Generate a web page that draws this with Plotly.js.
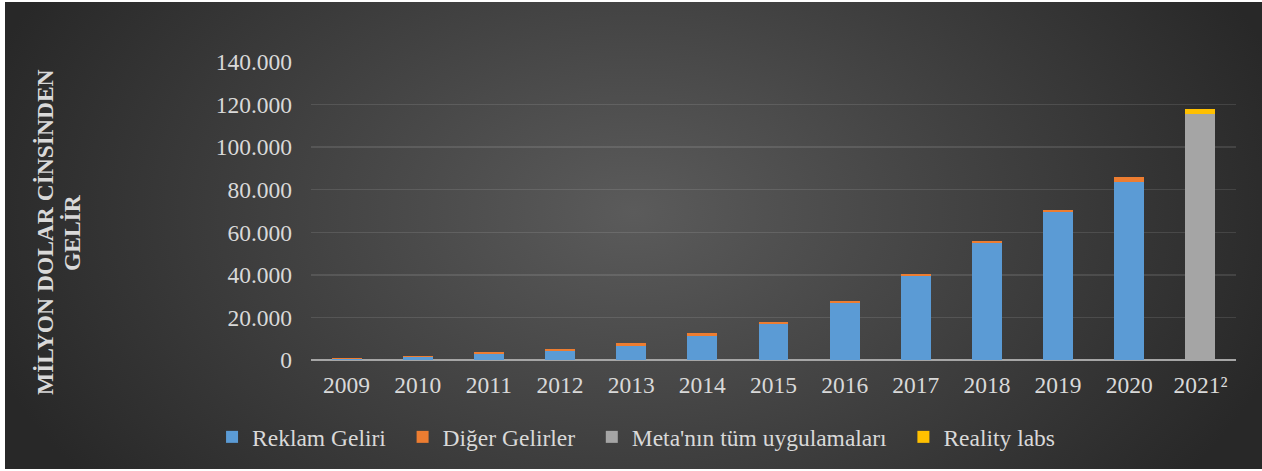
<!DOCTYPE html>
<html>
<head>
<meta charset="utf-8">
<script src="https://cdn.plot.ly/plotly-3.0.1.min.js"></script>
<style>
  html, body { margin: 0; padding: 0; background: #ffffff; width: 1262px; height: 471px; overflow: hidden; }
  #bg { position: absolute; left: 5px; top: 2px; width: 1257px; height: 467px;
        background: radial-gradient(ellipse 680px 450px at 50% 45%, #5b5b5b 0%, #282828 100%); }
  #chart { position: absolute; left: 0; top: 0; width: 1262px; height: 471px; }
</style>
</head>
<body>
<div id="bg"></div>
<div id="chart"></div>
<script>
// Categories (years)
const years = ['2009', '2010', '2011', '2012', '2013', '2014', '2015', '2016', '2017', '2018', '2019', '2020', '2021²'];

// Series values (million USD)
const reklamGeliri   = [400, 1400, 2900, 4000, 6800, 11400, 17000, 26700, 39700, 54800, 69600, 83700, null];
const digerGelirler  = [500, 600, 900, 1200, 1200, 1200, 900, 900, 900, 1000, 1100, 2300, null];
const metaTumUyg     = [null, null, null, null, null, null, null, null, null, null, null, null, 115700];
const realityLabs    = [null, null, null, null, null, null, null, null, null, null, null, null, 2200];

// Series names and y-axis tick labels
const seriesNames = ['Reklam Geliri', 'Diğer Gelirler', "Meta'nın tüm uygulamaları", 'Reality labs'];
const yTickVals = [0, 20000, 40000, 60000, 80000, 100000, 120000, 140000];
const yTickText = ['0', '20.000', '40.000', '60.000', '80.000', '100.000', '120.000', '140.000'];
const yTitleLines = ['MİLYON DOLAR CİNSİNDEN', 'GELİR'];

const serif = 'Liberation Serif, Times New Roman, serif';
const textColor = '#d9d9d9';

const colors = ['#5b9bd5', '#ed7d31', '#a5a5a5', '#ffc000'];
const seriesData = [reklamGeliri, digerGelirler, metaTumUyg, realityLabs];
const legendPad = '\u00a0\u00a0';

const traces = seriesData.map((vals, i) => ({
  type: 'bar',
  name: seriesNames[i] + (i < seriesData.length - 1 ? legendPad : ''),
  x: years,
  y: vals,
  marker: { color: colors[i], line: { width: 0 } },
  hoverinfo: 'x+y+name'
}));

const layout = {
  width: 1262,
  height: 471,
  paper_bgcolor: 'rgba(0,0,0,0)',
  plot_bgcolor: 'rgba(0,0,0,0)',
  barmode: 'stack',
  bargap: 0.58,
  margin: { l: 311, r: 26, t: 62, b: 111, pad: 0 },
  font: { family: serif, size: 23.5, color: textColor },
  xaxis: {
    type: 'category',
    showgrid: false,
    zeroline: false,
    showline: false,
    ticks: '',
    ticklabelstandoff: 8,
    tickfont: { family: serif, size: 23.5, color: textColor },
    fixedrange: true
  },
  yaxis: {
    range: [0, 140000],
    tickvals: yTickVals,
    ticktext: yTickText,
    showgrid: true,
    gridcolor: 'rgba(255,255,255,0.11)',
    gridwidth: 1.5,
    zeroline: true,
    zerolinecolor: '#a6a6a6',
    zerolinewidth: 2.5,
    showline: false,
    ticks: '',
    ticklabelstandoff: 18,
    tickfont: { family: serif, size: 23.5, color: textColor },
    fixedrange: true
  },
  legend: {
    orientation: 'h',
    xref: 'container',
    yref: 'container',
    x: 0.504,
    xanchor: 'center',
    y: 0.072,
    yanchor: 'middle',
    font: { family: serif, size: 23.5, color: textColor },
    bgcolor: 'rgba(0,0,0,0)',
    traceorder: 'normal'
  },
  annotations: [
    {
      text: '<b>' + yTitleLines[0] + '</b>',
      xref: 'paper', yref: 'paper',
      x: (45 - 311) / 925, y: 0.4295,
      xanchor: 'center', yanchor: 'middle',
      textangle: -90,
      showarrow: false,
      font: { family: serif, size: 23.5, color: textColor }
    },
    {
      text: '<b>' + yTitleLines[1] + '</b>',
      xref: 'paper', yref: 'paper',
      x: (72 - 311) / 925, y: 0.4295,
      xanchor: 'center', yanchor: 'middle',
      textangle: -90,
      showarrow: false,
      font: { family: serif, size: 23.5, color: textColor }
    }
  ],
  showlegend: true
};

Plotly.newPlot('chart', traces, layout, { displayModeBar: false, staticPlot: true });
</script>
</body>
</html>
